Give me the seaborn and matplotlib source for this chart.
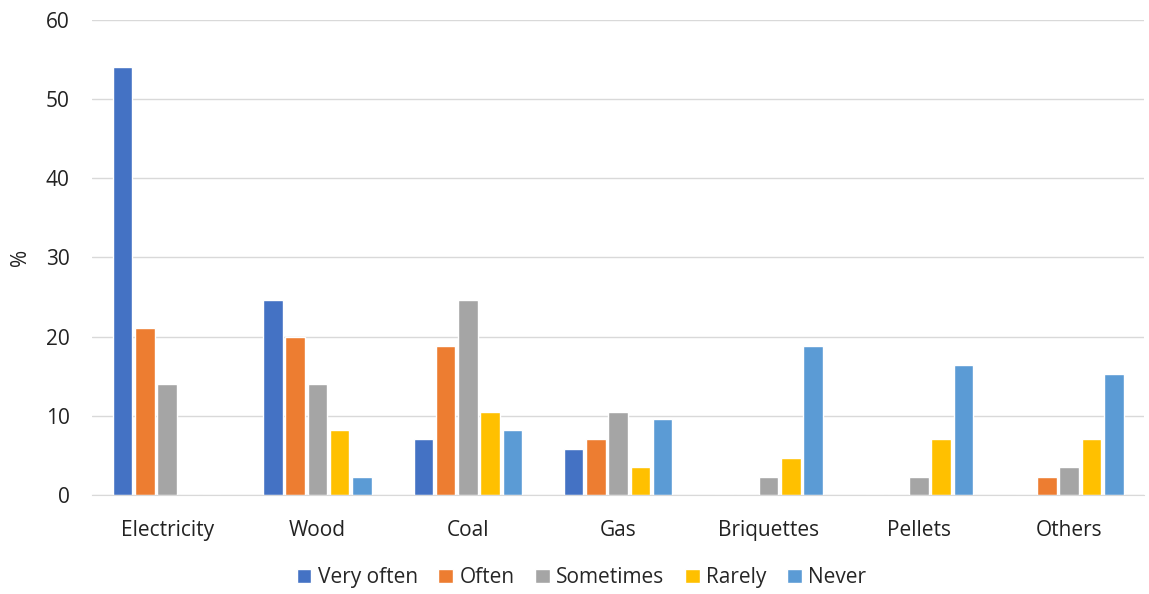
import matplotlib
matplotlib.use("Agg")
import matplotlib.pyplot as plt
import seaborn as sns
import pandas as pd

categories = ["Electricity", "Wood", "Coal", "Gas", "Briquettes", "Pellets", "Others"]
series = ["Very often", "Often", "Sometimes", "Rarely", "Never"]
very_often = [54.1, 24.6, 7.0, 5.8, 0, 0, 0]
often = [21.1, 19.9, 18.8, 7.0, 0, 0, 2.3]
sometimes = [14.0, 14.0, 24.6, 10.5, 2.3, 2.3, 3.5]
rarely = [0, 8.2, 10.5, 3.5, 4.6, 7.0, 7.0]
never = [0, 2.3, 8.2, 9.6, 18.8, 16.4, 15.3]
colors = ["#4472C4", "#ED7D31", "#A5A5A5", "#FFC000", "#5B9BD5"]

rows = []
for name, vals in zip(series, [very_often, often, sometimes, rarely, never]):
    for c, v in zip(categories, vals):
        rows.append({"Fuel": c, "Frequency": name, "pct": v})
df = pd.DataFrame(rows)

sns.set_style("white")
plt.rcParams["font.family"] = ["Open Sans", "DejaVu Sans"]

fig, ax = plt.subplots(figsize=(11.49, 5.94), dpi=100)
fig.subplots_adjust(left=0.080, right=0.996, top=0.966, bottom=0.167)

sns.barplot(data=df, x="Fuel", y="pct", hue="Frequency", order=categories,
            hue_order=series, palette=colors, width=0.74, gap=0.12,
            saturation=1, ax=ax, errorbar=None)

ax.set_ylim(0, 60)
ax.set_yticks(range(0, 61, 10))
ax.yaxis.grid(True, color="#D9D9D9", linewidth=1)
ax.set_axisbelow(True)
ax.set_xlabel("")
ax.set_ylabel("%", fontsize=15, color="#222222")
ax.yaxis.set_label_coords(-0.058, 0.5)
ax.tick_params(axis="both", labelsize=15, length=0, colors="#222222")
ax.tick_params(axis="x", pad=18)
ax.tick_params(axis="y", pad=16)
for s in ["top", "right", "left"]:
    ax.spines[s].set_visible(False)
ax.spines["bottom"].set_color("#D9D9D9")
ax.set_xlim(-0.5, 6.5)

handles, labels = ax.get_legend_handles_labels()
ax.get_legend().remove()
fig.legend(handles, labels, loc="center", bbox_to_anchor=(0.506, 0.027),
           ncol=5, frameon=False, fontsize=15, handlelength=0.7,
           handleheight=0.7, handletextpad=0.3, columnspacing=1.0)

fig.savefig("out.png", dpi=100)
